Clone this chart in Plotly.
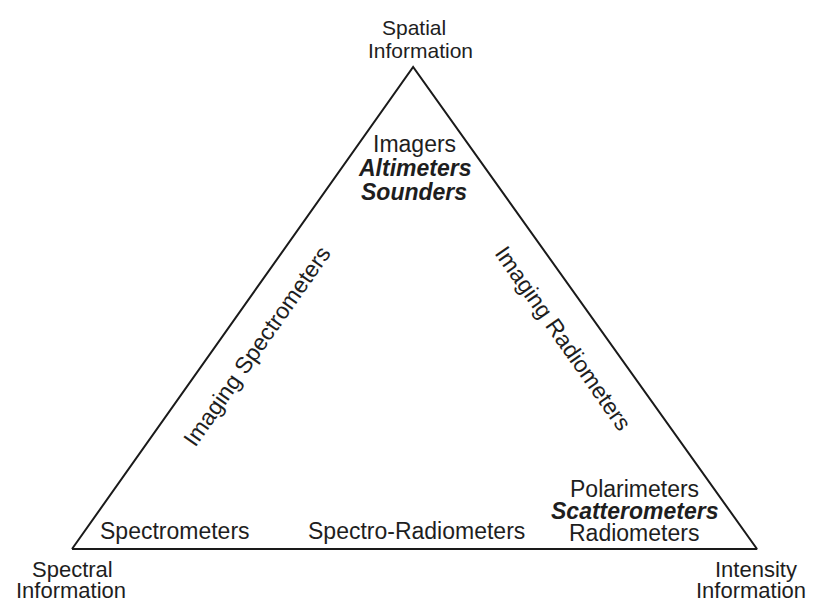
import plotly.graph_objects as go

# Triangle corners in a unit diagram space (left, apex, right)
corner_x = [0.0, 0.498, 1.0]
corner_y = [0.0, 1.0, 0.0]

# Instrument groups
apex_group = ["Imagers", "Altimeters", "Sounders"]
apex_style = ["normal", "bolditalic", "bolditalic"]
right_group = ["Polarimeters", "Scatterometers", "Radiometers"]
right_style = ["normal", "bolditalic", "normal"]
bottom_left_label = "Spectrometers"
bottom_mid_label = "Spectro-Radiometers"
left_edge_label = "Imaging Spectrometers"
right_edge_label = "Imaging Radiometers"

W, H = 816, 603
OFF = 8  # page body margin
# placement of diagram space (reference pixels)
PX0, PX1 = 72, 757
PY0, PY1 = 549, 67
sx = PX1 - PX0
sy = PY0 - PY1

def px(x):
    return (x - PX0) / sx

def py(y):
    return (PY0 - y) / sy

FONT = "Liberation Sans, Arial, Helvetica, sans-serif"
COL = "#1e1e1e"
FS = 23
FS_TOP = 21
FS_BOTTOM = 22

fig = go.Figure()
fig.add_trace(go.Scatter(
    x=corner_x + [corner_x[0]], y=corner_y + [corner_y[0]],
    mode="lines", line=dict(color="#1a1a1a", width=2), hoverinfo="skip",
    showlegend=False))

ann = []
def txt(t, x, y, style="normal", angle=0, size=FS):
    if style == "bolditalic":
        t = "<b><i>" + t + "</i></b>"
    ann.append(dict(text=t, x=px(x), y=py(y), xref="x", yref="y",
                    showarrow=False, textangle=angle, borderpad=0,
                    font=dict(family=FONT, size=size, color=COL),
                    xanchor="center", yanchor="middle"))

# corner labels
txt("Spatial", 414, 27, size=FS_TOP)
txt("Information", 420, 50, size=FS_TOP)
txt("Spectral", 72, 569, size=FS_BOTTOM)
txt("Information", 71, 590, size=FS_BOTTOM)
txt("Intensity", 756, 569, size=FS_BOTTOM)
txt("Information", 751, 590, size=FS_BOTTOM)

for i, (t, s) in enumerate(zip(apex_group, apex_style)):
    txt(t, 414, 144 + i * 24, s)
for i, (t, s) in enumerate(zip(right_group, right_style)):
    txt(t, 634, 489 + i * 22, s)

txt(bottom_left_label, 175, 531)
txt(bottom_mid_label, 416, 531)
txt(left_edge_label, 257, 346, angle=-55)
txt(right_edge_label, 563, 338, angle=55)

fig.update_layout(
    width=W, height=H,
    margin=dict(l=0, r=0, t=0, b=0),
    paper_bgcolor="white", plot_bgcolor="white",
    xaxis=dict(range=[px(OFF), px(W + OFF)], visible=False, fixedrange=True),
    yaxis=dict(range=[py(H + OFF), py(OFF)], visible=False, fixedrange=True),
    annotations=ann,
)
fig.write_html("out.html")
